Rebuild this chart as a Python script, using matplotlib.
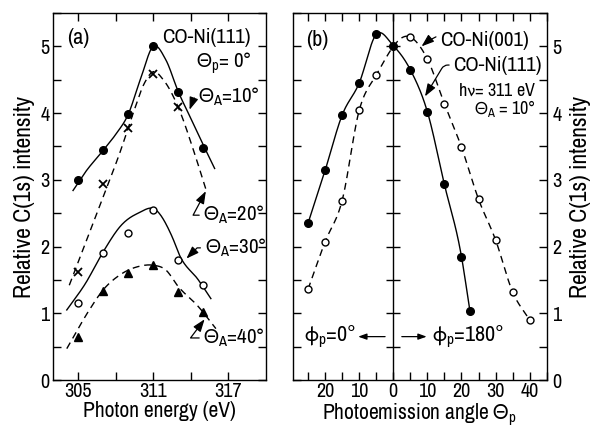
import numpy as np
import matplotlib
matplotlib.use('Agg')
import matplotlib.pyplot as plt
from matplotlib.ticker import MultipleLocator, FixedLocator, FuncFormatter

#---------------------------------------------------------------------------------------------------
# Style
#---------------------------------------------------------------------------------------------------

FONT = 'Archivo Narrow'
plt.rcParams['font.family'] = [FONT, 'Liberation Sans', 'DejaVu Sans']
plt.rcParams['mathtext.fontset'] = 'custom'
plt.rcParams['mathtext.rm'] = FONT
plt.rcParams['mathtext.it'] = FONT
plt.rcParams['mathtext.bf'] = FONT
plt.rcParams['mathtext.fallback'] = 'stixsans'   # greek letters are not in Archivo
plt.rcParams['axes.linewidth'] = 1.0

DASH = (0, (5, 3.5))

#---------------------------------------------------------------------------------------------------
# Data, panel (a): C(1s) intensity vs photon energy, CO-Ni(111), theta_p = 0
#---------------------------------------------------------------------------------------------------

energy = [305, 307, 309, 311, 313, 315]
int_a10 = [3.00, 3.44, 3.98, 5.00, 4.32, 3.48]
energy_a20 = [305, 307, 309, 311, 313]
int_a20 = [1.62, 2.94, 3.77, 4.59, 4.09]
int_a30 = [1.15, 1.91, 2.21, 2.55, 1.80, 1.42]
int_a40 = [0.65, 1.34, 1.61, 1.73, 1.32, 1.02]

# hand drawn guide curves
guide10_x = [304.6, 305.6, 307.0, 308.0, 309.0, 310.0, 311.0, 312.0, 313.0, 314.0, 315.0, 315.9]
guide10_y = [2.84, 3.12, 3.44, 3.68, 3.98, 4.52, 5.00, 4.80, 4.32, 3.92, 3.52, 3.17]
guide20_x = [304.3, 307.0, 308.4, 309.4, 310.3, 311.0, 311.8, 313.1, 314.2, 315.3]
guide20_y = [1.42, 2.74, 3.44, 4.00, 4.45, 4.62, 4.50, 4.04, 3.45, 2.80]
guide30_x = [304.1, 305.6, 307.0, 308.5, 309.8, 311.2, 312.5, 313.1, 314.6, 315.6]
guide30_y = [1.05, 1.45, 1.92, 2.33, 2.50, 2.55, 2.15, 1.87, 1.50, 1.22]
guide40_x = [304.1, 305.9, 307.0, 308.3, 309.8, 311.0, 312.0, 313.0, 314.6, 316.0]
guide40_y = [0.47, 1.05, 1.35, 1.57, 1.70, 1.72, 1.65, 1.40, 1.10, 0.77]

#---------------------------------------------------------------------------------------------------
# Data, panel (b): C(1s) intensity vs photoemission angle, hv = 311 eV, theta_A = 10
# negative angles = phi_p = 0 side, positive = phi_p = 180 side
#---------------------------------------------------------------------------------------------------

angle_111 = [-25, -20, -15, -10, -5, 0, 5, 10, 15, 20, 22.5]
int_111 = [2.35, 3.14, 3.97, 4.45, 5.18, 5.01, 4.65, 4.02, 2.93, 1.85, 1.03]
angle_001 = [-25, -20, -15, -10, -5, 5, 10, 15, 20, 25, 30, 35, 40]
int_001 = [1.36, 2.07, 2.69, 4.04, 4.57, 5.14, 4.81, 4.14, 3.49, 2.71, 2.10, 1.32, 0.90]

#---------------------------------------------------------------------------------------------------
# Helpers
#---------------------------------------------------------------------------------------------------

# Smooth line through a set of points (cubic hermite, for drawing only)
def smooth(x, y, n = 25):
    x = np.asarray(x, float)
    y = np.asarray(y, float)
    m = np.gradient(y, x)
    t = np.linspace(0, 1, n)
    h00 = 2*t**3 - 3*t**2 + 1
    h10 = t**3 - 2*t**2 + t
    h01 = -2*t**3 + 3*t**2
    h11 = t**3 - t**2
    xs, ys = [], []
    for i in range(len(x) - 1):
        h = x[i+1] - x[i]
        xs.append(x[i] + t*h)
        ys.append(h00*y[i] + h10*h*m[i] + h01*y[i+1] + h11*h*m[i+1])
    return np.concatenate(xs), np.concatenate(ys)


def leader(ax, text, xy, xytext, conn, ha = 'left', size = 15):
    ax.annotate(text, xy = xy, xytext = xytext, ha = ha, va = 'center', fontsize = size,
                arrowprops = dict(arrowstyle = '-|>,head_length=0.5,head_width=0.18', lw = 0.9,
                                  color = 'k', shrinkA = 1, shrinkB = 0, connectionstyle = conn))


def style_ticks(ax):
    ax.tick_params(which = 'both', direction = 'in', top = True, bottom = True, left = True, right = True,
                   length = 5.5, width = 1.0, labelsize = 14.5, pad = 1.5)

#---------------------------------------------------------------------------------------------------
# Figure
#---------------------------------------------------------------------------------------------------

W, H = 590, 425
fig = plt.figure(figsize = (W/100, H/100), dpi = 100)
ax_a = fig.add_axes([53/W, 45/H, 213/W, 367/H])
ax_b = fig.add_axes([292.7/W, 45/H, 254/W, 367/H])

# ---- panel (a)
x, y = smooth(guide10_x, guide10_y)
ax_a.plot(x, y, color = 'k', lw = 1.0)
x, y = smooth(guide20_x, guide20_y)
ax_a.plot(x, y, color = 'k', lw = 1.0, ls = DASH)
x, y = smooth(guide30_x, guide30_y)
ax_a.plot(x, y, color = 'k', lw = 1.0)
x, y = smooth(guide40_x, guide40_y)
ax_a.plot(x, y, color = 'k', lw = 1.0, ls = DASH)

ax_a.plot(energy, int_a10, 'o', color = 'k', ms = 5.5)
ax_a.plot(energy_a20, int_a20, 'x', color = 'k', ms = 5.5, mew = 1.3)
ax_a.plot(energy, int_a30, 'o', mfc = 'white', mec = 'k', ms = 5, mew = 1.0)
ax_a.plot(energy, int_a40, '^', color = 'k', ms = 6)

ax_a.set_xlim(303, 320)
ax_a.set_ylim(0, 5.5)
ax_a.xaxis.set_major_locator(FixedLocator([305, 311, 317]))
ax_a.xaxis.set_minor_locator(FixedLocator([308, 314]))
ax_a.yaxis.set_major_locator(MultipleLocator(1))
ax_a.yaxis.set_minor_locator(MultipleLocator(0.5))
style_ticks(ax_a)
ax_a.tick_params(axis = 'y', pad = 2.5)
ax_a.set_xlabel('Photon energy (eV)', fontsize = 15.5, va = 'top')
ax_a.xaxis.set_label_coords(0.5, -0.057)
ax_a.set_ylabel('Relative C(1s) intensity', fontsize = 17, labelpad = 4)

ax_a.text(305, 5.13, '(a)', ha = 'center', va = 'center', fontsize = 16)
ax_a.text(318.8, 5.13, 'CO-Ni(111)', ha = 'right', va = 'center', fontsize = 15)
ax_a.text(318.8, 4.75, r'$\Theta_p$= 0°', ha = 'right', va = 'center', fontsize = 15)

leader(ax_a, r'$\Theta_A$=10°', (313.9, 4.05), (314.6, 4.24), 'angle,angleA=0,angleB=70,rad=3')
leader(ax_a, r'$\Theta_A$=20°', (315.2, 2.83), (315.0, 2.47), 'angle,angleA=0,angleB=62,rad=0')
leader(ax_a, r'$\Theta_A$=30°', (313.65, 1.82), (315.1, 1.98), 'angle,angleA=0,angleB=45,rad=0')
leader(ax_a, r'$\Theta_A$=40°', (315.1, 0.91), (315.0, 0.63), 'angle,angleA=0,angleB=53,rad=0')

# ---- panel (b)
x, y = smooth(angle_111, int_111)
ax_b.plot(x, y, color = 'k', lw = 1.0)
x, y = smooth(angle_001, int_001)
ax_b.plot(x, y, color = 'k', lw = 1.0, ls = DASH)
ax_b.plot(angle_111, int_111, 'o', color = 'k', ms = 5.5)
ax_b.plot(angle_001, int_001, 'o', mfc = 'white', mec = 'k', ms = 5, mew = 1.0)

ax_b.axvline(0, color = 'k', lw = 1.0)
yt = np.arange(0.5, 5.5, 0.5)
ax_b.plot(np.zeros(len(yt)), yt, ls = 'none', marker = '_', ms = 9.5, mew = 1.0, color = 'k')

ax_b.set_xlim(-29.5, 45)
ax_b.set_ylim(0, 5.5)
ax_b.xaxis.set_major_locator(FixedLocator([-20, -10, 0, 10, 20, 30, 40]))
ax_b.xaxis.set_minor_locator(MultipleLocator(5))
ax_b.xaxis.set_major_formatter(FuncFormatter(lambda v, p: '%d' % abs(v)))
ax_b.yaxis.set_major_locator(MultipleLocator(1))
ax_b.yaxis.set_minor_locator(MultipleLocator(0.5))
style_ticks(ax_b)
ax_b.tick_params(axis = 'y', labelleft = False, labelright = True, pad = 4)
ax_b.yaxis.set_label_position('right')
ax_b.set_xlabel(r'Photoemission angle $\Theta_p$', fontsize = 15.5, va = 'top')
ax_b.xaxis.set_label_coords(0.5, -0.057)
ax_b.set_ylabel('Relative C(1s) intensity', fontsize = 17, labelpad = 6)

ax_b.text(-22.2, 5.1, '(b)', ha = 'center', va = 'center', fontsize = 16)
leader(ax_b, 'CO-Ni(001)', (8.3, 5.0), (13.7, 5.09), 'arc3,rad=0.35')
leader(ax_b, 'CO-Ni(111)', (9.3, 4.25), (17.6, 4.72), 'angle,angleA=0,angleB=59,rad=4')
ax_b.text(41.8, 4.34, r'h$\mathrm{\nu}$= 311 eV', ha = 'right', va = 'center', fontsize = 13)
ax_b.text(41.8, 4.07, r'$\Theta_A$ = 10°', ha = 'right', va = 'center', fontsize = 13)

ax_b.annotate('', xy = (-10.3, 0.65), xytext = (-2.4, 0.65),
              arrowprops = dict(arrowstyle = '-|>,head_length=0.5,head_width=0.18', lw = 0.9, color = 'k',
                                shrinkA = 0, shrinkB = 0))
ax_b.annotate('', xy = (9.8, 0.65), xytext = (2.5, 0.65),
              arrowprops = dict(arrowstyle = '-|>,head_length=0.5,head_width=0.18', lw = 0.9, color = 'k',
                                shrinkA = 0, shrinkB = 0))
ax_b.text(-10.9, 0.65, r'$\mathrm{\phi}_p$=0°', ha = 'right', va = 'center', fontsize = 16)
ax_b.text(11.5, 0.65, r'$\mathrm{\phi}_p$=180°', ha = 'left', va = 'center', fontsize = 16)

fig.savefig('out.png', dpi = 100)
